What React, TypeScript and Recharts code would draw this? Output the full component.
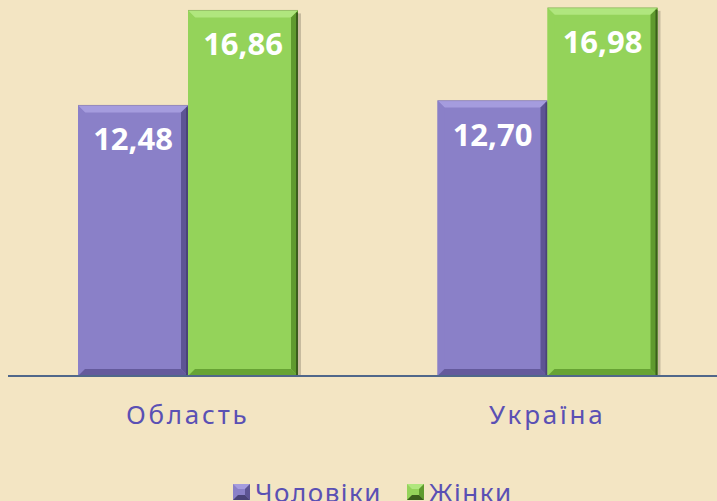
import React from 'react';
import { BarChart, Bar, XAxis, YAxis, Legend, LabelList } from 'recharts';

// values
const regions = ['Область', 'Україна'];
const men = [12.48, 12.7];
const women = [16.86, 16.98];
const seriesNames = ['Чоловіки', 'Жінки'];

const data = regions.map((name, i) => ({ name, men: men[i], women: women[i] }));

const palette = {
  men: { base: '#8a80c8', light: '#a59cde', dark: '#5d5494', edge: '#4a4378' },
  women: { base: '#94d35a', light: '#b0e67e', dark: '#5f9a2e', edge: '#3b5e1c' },
};

const textColor = '#5a50b4';
const fontFamily = '"Noto Sans", "DejaVu Sans", sans-serif';

const bevelShape = (colors: typeof palette.men) => (props: any) => {
  const { x, y, width: w, height: h } = props;
  if (!w || !h) return null;
  const b = 7;
  return (
    <g>
      <rect x={x + w} y={y + 3} width={3} height={h - 3} fill="#000" opacity={0.18} />
      <rect x={x} y={y} width={w} height={h} fill={colors.base} />
      <polygon points={`${x},${y} ${x + w},${y} ${x + w - b},${y + b} ${x + b},${y + b}`} fill={colors.light} />
      <polygon points={`${x},${y} ${x + b},${y + b} ${x + b},${y + h - b} ${x},${y + h}`} fill={colors.base} opacity={0.9} />
      <polygon points={`${x + w},${y} ${x + w},${y + h} ${x + w - b},${y + h - b} ${x + w - b},${y + b}`} fill={colors.dark} />
      <polygon points={`${x},${y + h} ${x + w},${y + h} ${x + w - b},${y + h - b} ${x + b},${y + h - b}`} fill={colors.dark} opacity={0.85} />
      <line x1={x + w - 1} y1={y + 2} x2={x + w - 1} y2={y + h} stroke={colors.edge} strokeWidth={2} />
      <line x1={x} y1={y} x2={x + w} y2={y} stroke={colors.edge} strokeOpacity={0.25} />
    </g>
  );
};

const renderValue = (props: any) => {
  const { x, y, width, value } = props;
  return (
    <text
      x={x + width / 2}
      y={y + 45}
      textAnchor="middle"
      fill="#ffffff"
      fontFamily='"Open Sans", sans-serif'
      fontWeight={700}
      fontSize={31}
    >
      {String(value.toFixed(2)).replace('.', ',')}
    </text>
  );
};

const renderTick = (props: any) => {
  const { x, y, payload } = props;
  return (
    <text
      x={x}
      y={y + 48}
      textAnchor="middle"
      fill={textColor}
      fontFamily={fontFamily}
      fontSize={26}
      letterSpacing={2.8}
    >
      {payload.value}
    </text>
  );
};

const Swatch = ({ colors }: { colors: typeof palette.men }) => (
  <svg width={17} height={16} style={{ marginRight: 5 }}>
    <rect x={0} y={0} width={17} height={16} fill={colors.base} />
    <polygon points="0,0 17,0 12,5 5,5" fill={colors.light} />
    <polygon points="17,0 17,16 12,11 12,5" fill={colors.dark} />
    <polygon points="0,16 17,16 12,11 5,11" fill={colors.edge} />
  </svg>
);

const renderLegend = () => (
  <div
    style={{
      display: 'flex',
      alignItems: 'center',
      paddingLeft: 225,
      fontFamily,
      fontSize: 26,
      letterSpacing: 1.5,
      color: textColor,
    }}
  >
    <Swatch colors={palette.men} />
    <span style={{ marginRight: 25 }}>{seriesNames[0]}</span>
    <Swatch colors={palette.women} />
    <span>{seriesNames[1]}</span>
  </div>
);

export default function App() {
  return (
    <div style={{ position: 'fixed', left: 0, top: 0, width: 717, height: 501, overflow: 'hidden', background: '#f3e5c3' }}>
      <div style={{ marginLeft: 8 }}>
        <BarChart
          width={719}
          height={501}
          data={data}
          margin={{ top: 0, right: 0, left: 0, bottom: 0 }}
          barCategoryGap={70}
          barGap={0}
        >
          <YAxis hide domain={[0, 17.34]} width={0} />
          <XAxis
            dataKey="name"
            height={125}
            tickSize={0}
            tickMargin={0}
            tickLine={false}
            axisLine={{ stroke: '#50678a', strokeWidth: 2 }}
            tick={renderTick}
          />
          <Legend
            content={renderLegend}
            verticalAlign="top"
            wrapperStyle={{ top: 474, left: 0, width: 719, height: 0, overflow: 'visible' }}
          />
          <Bar dataKey="men" name={seriesNames[0]} shape={bevelShape(palette.men)} isAnimationActive={false}>
            <LabelList dataKey="men" content={renderValue} />
          </Bar>
          <Bar dataKey="women" name={seriesNames[1]} shape={bevelShape(palette.women)} isAnimationActive={false}>
            <LabelList dataKey="women" content={renderValue} />
          </Bar>
        </BarChart>
      </div>
    </div>
  );
}
